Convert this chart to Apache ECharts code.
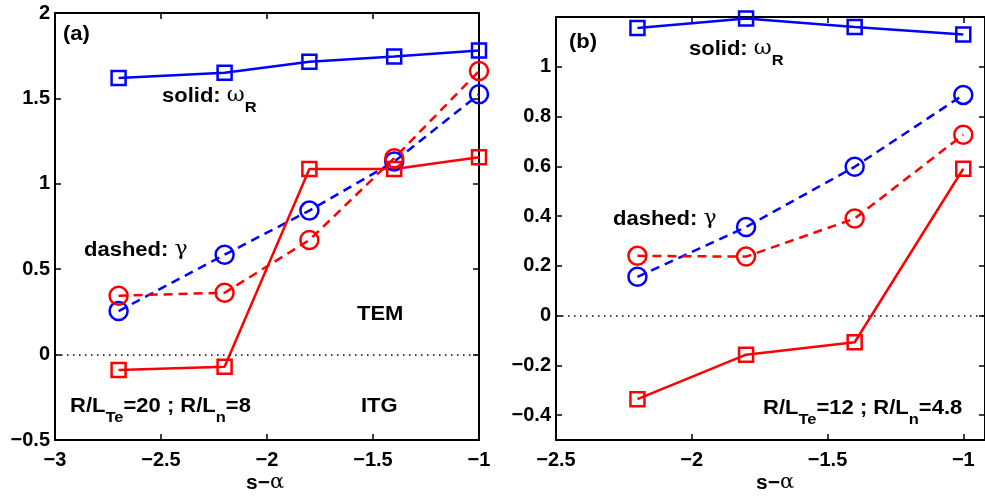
<!DOCTYPE html>
<html><head><meta charset="utf-8">
<script src="https://cdn.jsdelivr.net/npm/echarts@6/dist/echarts.min.js"></script>
<style>html,body{margin:0;padding:0;background:#fff}#c{width:985px;height:497px}</style>
</head><body><div id="c"></div>
<script>
// ---- data ----
var xA = [-2.7, -2.2, -1.8, -1.4, -1.0];
var aOmegaTEM = [1.62, 1.65, 1.715, 1.745, 1.78];   // blue solid squares
var aGammaTEM = [0.255, 0.585, 0.843, 1.13, 1.524];  // blue dashed circles
var aGammaITG = [0.345, 0.362, 0.671, 1.15, 1.66];   // red dashed circles
var aOmegaITG = [-0.09, -0.071, 1.087, 1.087, 1.155]; // red solid squares

var xB = [-2.2, -1.8, -1.4, -1.0];
var bOmegaTEM = [1.156, 1.194, 1.16, 1.13];
var bGammaTEM = [0.156, 0.356, 0.598, 0.887];
var bGammaITG = [0.24, 0.237, 0.39, 0.727];
var bOmegaITG = [-0.336, -0.157, -0.107, 0.59];

var xTicksA = [-3, -2.5, -2, -1.5, -1];
var yTicksA = [-0.5, 0, 0.5, 1, 1.5, 2];
var xTicksB = [-2.5, -2, -1.5, -1];
var yTicksB = [-0.4, -0.2, 0, 0.2, 0.4, 0.6, 0.8, 1];

// ---- build ----
function pairs(xs, ys){ return xs.map(function(x,i){ return [x, ys[i]]; }); }
var BLUE = '#0000ff', RED = '#ff0000';
var FONT = 'Liberation Sans, Arial, sans-serif';

function fmt(v){ return String(v).replace('-', '\u2212'); }

function mkSeries(idx, data, color, dashed, sym){
  return {
    type: 'line', xAxisIndex: idx, yAxisIndex: idx, data: data,
    symbol: sym === 'sq' ? 'rect' : 'circle',
    symbolSize: sym === 'sq' ? 14 : 18,
    showSymbol: true,
    lineStyle: { color: color, width: 2.5, type: dashed ? [9, 6] : 'solid' },
    itemStyle: { color: 'rgba(0,0,0,0)', borderColor: color, borderWidth: 2.5 },
    emphasis: { disabled: true }, animation: false, z: 3
  };
}
function zeroLine(idx){
  return { type: 'line', xAxisIndex: idx, yAxisIndex: idx, data: [], silent: true,
    markLine: { silent: true, symbol: 'none', label: { show: false },
      lineStyle: { color: '#000', width: 1.5, type: [1.5, 4.5] },
      data: [{ yAxis: 0 }] , animation: false}, animation: false };
}

function xAxisDef(grid, min, max, ticks, pos, lbl){
  return {
    type: 'value', gridIndex: grid, min: min, max: max, position: pos,
    axisLine: { show: true, onZero: false, lineStyle: { color: '#000', width: 2 } },
    axisTick: { show: true, inside: true, length: 6, lineStyle: { color: '#000', width: 1.5 }, customValues: ticks },
    axisLabel: { show: lbl, customValues: ticks, formatter: fmt, color: '#000', fontFamily: FONT, fontWeight: 'bold', fontSize: 20, margin: 10 },
    splitLine: { show: false }
  };
}
function yAxisDef(grid, min, max, ticks, pos, lbl){
  return {
    type: 'value', gridIndex: grid, min: min, max: max, position: pos,
    axisLine: { show: true, onZero: false, lineStyle: { color: '#000', width: 2 } },
    axisTick: { show: true, inside: true, length: 6, lineStyle: { color: '#000', width: 1.5 }, customValues: ticks },
    axisLabel: { show: lbl, customValues: ticks, formatter: fmt, color: '#000', fontFamily: FONT, fontWeight: 'bold', fontSize: 20, margin: 5 },
    splitLine: { show: false }
  };
}

var rich = {
  m: { fontSize: 20, fontWeight: 'bold', fontFamily: FONT, color: '#000', lineHeight: 22, verticalAlign: 'top' },
  g: { fontSize: 20, fontWeight: 'normal', fontFamily: 'DejaVu Serif, serif', color: '#000', lineHeight: 22, verticalAlign: 'top' },
  s: { fontSize: 15, fontWeight: 'bold', fontFamily: FONT, color: '#000', lineHeight: 16, padding: [14, 0, 0, 0], verticalAlign: 'top' }
};
function txt(x, y, str, sx){
  return { type: 'text', left: x, top: y, z: 10, scaleX: sx || 1.1, originX: 0, originY: 0,
    style: { text: str, rich: rich, fill: '#000' } };
}

var option = {
  backgroundColor: '#fff',
  animation: false,
  grid: [
    { left: 55, top: 13, width: 424, height: 427 },
    { left: 556, top: 17, width: 431, height: 423 }
  ],
  xAxis: [
    xAxisDef(0, -3, -1, xTicksA, 'bottom', true),
    xAxisDef(1, -2.5, -0.92, xTicksB, 'bottom', true),
    xAxisDef(0, -3, -1, xTicksA, 'top', false),
    xAxisDef(1, -2.5, -0.92, xTicksB, 'top', false)
  ],
  yAxis: [
    yAxisDef(0, -0.5, 2, yTicksA, 'left', true),
    yAxisDef(1, -0.5, 1.2, yTicksB, 'left', true),
    yAxisDef(0, -0.5, 2, yTicksA, 'right', false),
    yAxisDef(1, -0.5, 1.2, yTicksB, 'right', false)
  ],
  series: [
    zeroLine(0), zeroLine(1),
    mkSeries(0, pairs(xA, aOmegaTEM), BLUE, false, 'sq'),
    mkSeries(0, pairs(xA, aGammaTEM), BLUE, true, 'ci'),
    mkSeries(0, pairs(xA, aGammaITG), RED, true, 'ci'),
    mkSeries(0, pairs(xA, aOmegaITG), RED, false, 'sq'),
    mkSeries(1, pairs(xB, bOmegaTEM), BLUE, false, 'sq'),
    mkSeries(1, pairs(xB, bGammaTEM), BLUE, true, 'ci'),
    mkSeries(1, pairs(xB, bGammaITG), RED, true, 'ci'),
    mkSeries(1, pairs(xB, bOmegaITG), RED, false, 'sq')
  ],
  graphic: [
    txt(63, 24, '{m|(a)}'),
    txt(162, 86, '{m|solid: }{g|\u03c9}{s|R}'),
    txt(84, 240, '{m|dashed: }{g|\u03b3}'),
    txt(357, 304, '{m|TEM}'),
    txt(361, 396, '{m|ITG}'),
    txt(70, 396, '{m|R/L}{s|Te}{m|=20 ; R/L}{s|n}{m|=8}'),
    txt(569, 32, '{m|(b)}'),
    txt(689, 39, '{m|solid: }{g|\u03c9}{s|R}'),
    txt(613, 209, '{m|dashed: }{g|\u03b3}'),
    txt(763, 398, '{m|R/L}{s|Te}{m|=12 ; R/L}{s|n}{m|=4.8}'),
    txt(246, 473, '{m|s\u2212}{g|\u03b1}', 1.05),
    txt(756, 473, '{m|s\u2212}{g|\u03b1}', 1.05)
  ]
};
var chart = echarts.init(document.getElementById('c'), null, { renderer: 'canvas' });
chart.setOption(option);
</script></body></html>
